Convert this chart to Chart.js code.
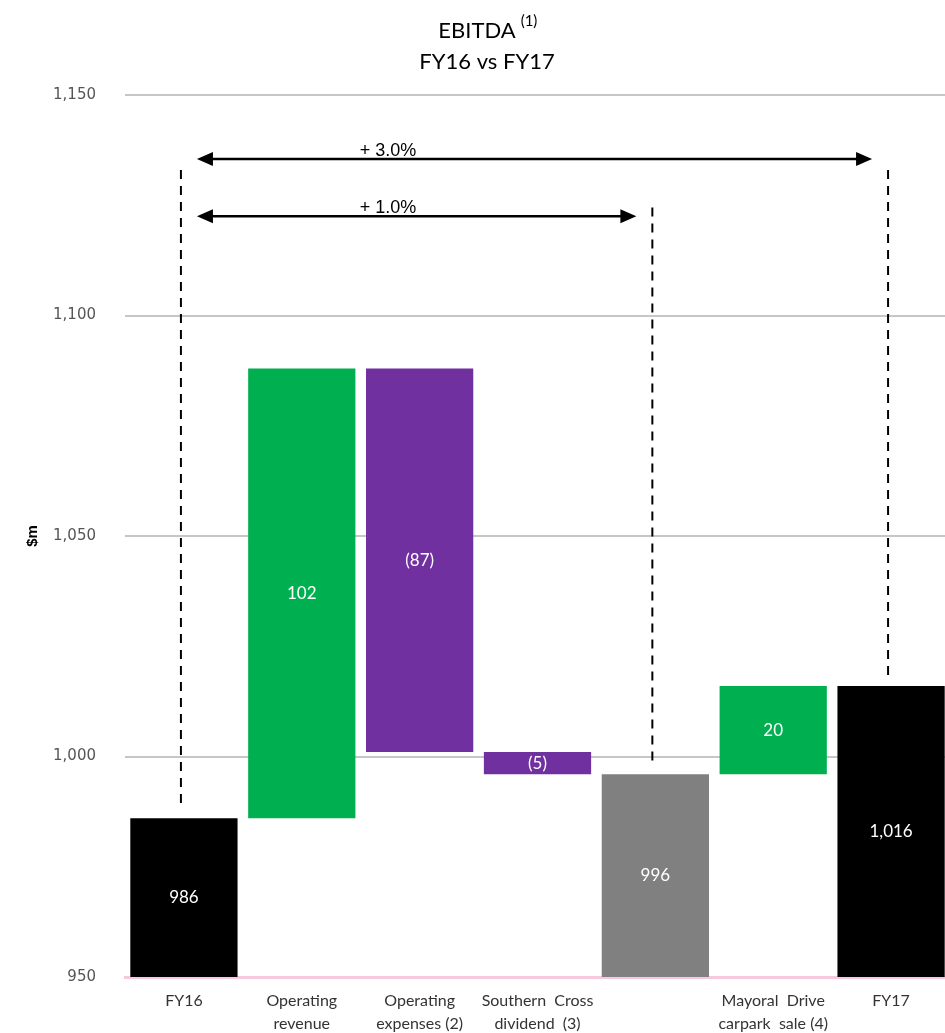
<!DOCTYPE html>
<html>
<head>
<meta charset="utf-8">
<script src="https://cdn.jsdelivr.net/npm/chart.js@4.4.1/dist/chart.umd.min.js"></script>
<style>
  html, body { margin: 0; padding: 0; background: #fff; overflow: hidden; }
  #wrap { width: 950px; height: 1033px; }
</style>
</head>
<body>
<div id="wrap"><canvas id="ebitda" width="950" height="1033"></canvas></div>
<script>
// --- data ---
const categories = ['FY16', ['Operating', 'revenue'], ['Operating', 'expenses (2)'],
  ['Southern  Cross', 'dividend  (3)'], '', ['Mayoral  Drive', 'carpark  sale (4)'], 'FY17'];
const barFrom = [0, 986, 1088, 1001, 0, 996, 0];
const barTo = [986, 1088, 1001, 996, 996, 1016, 1016];
const barText = ['986', '102', '(87)', '(5)', '996', '20', '1,016'];
const barColors = ['#000000', '#00b050', '#7030a0', '#7030a0', '#808080', '#00b050', '#000000'];
const yTicks = [950, 1000, 1050, 1100, 1150];

// growth arrows: from category -> to category, level on y axis
const arrowFrom = [0, 0];
const arrowTo = [6, 4];
const arrowLevel = [1135.5, 1122.5];
const arrowText = ['+ 3.0%', '+ 1.0%'];

// dashed guides: category, top, bottom
const guideCat = [0, 4, 6];
const guideTop = [1133, 1124.5, 1133];
const guideBottom = [988, 999, 1017.5];

// --- plugins ---
const titlePlugin = {
  id: 'titleText',
  afterDraw(chart) {
    const ctx = chart.ctx;
    const cx = 487;
    ctx.save();
    ctx.fillStyle = '#000';
    ctx.textBaseline = 'alphabetic';
    ctx.font = '22px Lato';
    ctx.textAlign = 'center';
    ctx.fillText('EBITDA', cx - 10, 38);
    const w = ctx.measureText('EBITDA').width;
    ctx.font = '15px Lato';
    ctx.textAlign = 'left';
    ctx.fillText('(1)', cx - 10 + w / 2 + 5, 26);
    ctx.font = '22px Lato';
    ctx.textAlign = 'center';
    ctx.fillText('FY16 vs FY17', cx, 69);
    ctx.restore();
  }
};

const barLabelPlugin = {
  id: 'barLabels',
  afterDatasetsDraw(chart) {
    const ctx = chart.ctx;
    const area = chart.chartArea;
    const meta = chart.getDatasetMeta(0);
    ctx.save();
    ctx.fillStyle = '#fff';
    ctx.font = '17px Lato';
    ctx.textAlign = 'center';
    ctx.textBaseline = 'middle';
    meta.data.forEach((bar, i) => {
      const top = Math.max(Math.min(bar.y, bar.base), area.top);
      const bot = Math.min(Math.max(bar.y, bar.base), area.bottom);
      ctx.fillText(barText[i], bar.x, (top + bot) / 2);
    });
    ctx.restore();
  }
};

function arrowHead(ctx, x, y, dir) {
  ctx.beginPath();
  ctx.moveTo(x, y);
  ctx.lineTo(x - dir * 16, y - 7);
  ctx.lineTo(x - dir * 16, y + 7);
  ctx.closePath();
  ctx.fill();
}

const annotationPlugin = {
  id: 'guides',
  afterDraw(chart) {
    const ctx = chart.ctx;
    const xs = chart.scales.x;
    const ys = chart.scales.y;
    ctx.save();
    ctx.strokeStyle = '#000';
    ctx.fillStyle = '#000';
    ctx.lineWidth = 2;
    ctx.setLineDash([9, 7]);
    guideCat.forEach((c, i) => {
      const x = xs.getPixelForValue(c) - 3;
      ctx.beginPath();
      ctx.moveTo(x, ys.getPixelForValue(guideTop[i]));
      ctx.lineTo(x, ys.getPixelForValue(guideBottom[i]));
      ctx.stroke();
    });
    ctx.setLineDash([]);
    ctx.lineWidth = 2.5;
    arrowFrom.forEach((c, i) => {
      const x1 = xs.getPixelForValue(c) + 13;
      const x2 = xs.getPixelForValue(arrowTo[i]) - 19;
      const y = ys.getPixelForValue(arrowLevel[i]);
      ctx.beginPath();
      ctx.moveTo(x1 + 10, y);
      ctx.lineTo(x2 - 10, y);
      ctx.stroke();
      arrowHead(ctx, x1, y, -1);
      arrowHead(ctx, x2, y, 1);
      ctx.font = '18px "Liberation Sans"';
      ctx.textAlign = 'center';
      ctx.textBaseline = 'alphabetic';
      ctx.fillText(arrowText[i], x1 + 191, y - 3);
    });
    ctx.restore();
  }
};

// --- chart ---
new Chart(document.getElementById('ebitda'), {
  type: 'bar',
  data: {
    labels: categories,
    datasets: [{
      data: barFrom.map((v, i) => [v, barTo[i]]),
      backgroundColor: barColors,
      borderWidth: 0,
      barPercentage: 0.91,
      categoryPercentage: 1
    }]
  },
  options: {
    responsive: false,
    animation: false,
    layout: { padding: { top: 95, left: 0, right: 0, bottom: 0 } },
    plugins: { legend: { display: false }, tooltip: { enabled: false } },
    scales: {
      x: {
        afterFit(scale) { scale.height = 56; },
        grid: { display: false },
        border: { color: '#f6c9de', width: 3 },
        ticks: {
          color: '#333',
          font: { family: 'Lato', size: 16, lineHeight: 1.45 },
          padding: 4,
          maxRotation: 0,
          autoSkip: false
        }
      },
      y: {
        min: 950,
        max: 1150,
        afterFit(scale) { scale.width = 125; },
        afterBuildTicks(scale) { scale.ticks = yTicks.map(v => ({ value: v })); },
        border: { display: false },
        grid: {
          drawTicks: false,
          lineWidth: 2,
          color: ctx => ctx.tick && ctx.tick.value === 950 ? 'rgba(0,0,0,0)' : '#c6c6c6'
        },
        ticks: {
          color: '#555',
          padding: 29,
          font: { family: 'DejaVu Sans', size: 15 },
          callback: v => v.toLocaleString('en-US')
        },
        title: {
          display: true,
          text: '$m',
          color: '#000',
          font: { family: 'Liberation Sans', size: 15, weight: 'bold' },
          padding: { top: 24, bottom: 0 }
        }
      }
    }
  },
  plugins: [titlePlugin, barLabelPlugin, annotationPlugin]
});
</script>
</body>
</html>
